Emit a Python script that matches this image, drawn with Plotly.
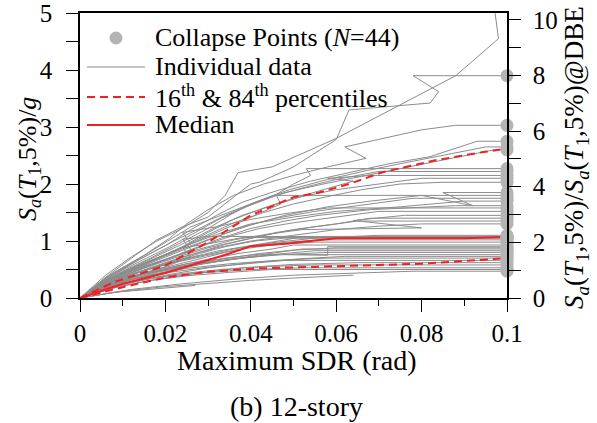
import plotly.graph_objects as go

# ---------------- data ----------------
x_tick_vals = [0, 0.02, 0.04, 0.06, 0.08, 0.1]
x_tick_text = ["0", "0.02", "0.04", "0.06", "0.08", "0.1"]
y_tick_vals = [0, 1, 2, 3, 4, 5]
y2_tick_vals = [0, 2, 4, 6, 8, 10]
sa_dbe = 0.488  # g, ratio between the two y axes

# individual IDA curves (SDR in rad, Sa in g)
c01_sdr = [0, 0.012, 0.024, 0.036, 0.05, 0.064, 0.078, 0.1]
c01_sa = [0, 0.15, 0.25, 0.33, 0.4, 0.44, 0.47, 0.47]
c02_sdr = [0, 0.008, 0.016, 0.025, 0.035, 0.045, 0.1]
c02_sa = [0, 0.18, 0.3, 0.39, 0.45, 0.5, 0.5]
c03_sdr = [0, 0.006, 0.012, 0.02, 0.03, 0.04, 0.052, 0.1]
c03_sa = [0, 0.17, 0.28, 0.38, 0.45, 0.5, 0.53, 0.53]
c04_sdr = [0, 0.007, 0.015, 0.024, 0.033, 0.043, 0.055, 0.1]
c04_sa = [0, 0.2, 0.33, 0.43, 0.5, 0.55, 0.58, 0.58]
c05_sdr = [0, 0.009, 0.018, 0.028, 0.038, 0.05, 0.065, 0.1]
c05_sa = [0, 0.2, 0.33, 0.44, 0.53, 0.59, 0.62, 0.62]
c06_sdr = [0, 0.006, 0.013, 0.021, 0.03, 0.04, 0.048, 0.1]
c06_sa = [0, 0.2, 0.34, 0.45, 0.54, 0.6, 0.66, 0.66]
c07_sdr = [0, 0.008, 0.016, 0.025, 0.035, 0.046, 0.058, 0.1]
c07_sa = [0, 0.25, 0.4, 0.52, 0.6, 0.66, 0.7, 0.7]
c08_sdr = [0, 0.01, 0.02, 0.03, 0.04, 0.052, 0.062, 0.1]
c08_sa = [0, 0.23, 0.4, 0.53, 0.62, 0.69, 0.73, 0.73]
c09_sdr = [0, 0.007, 0.014, 0.022, 0.03, 0.038, 0.047, 0.1]
c09_sa = [0, 0.24, 0.4, 0.52, 0.62, 0.7, 0.76, 0.76]
c11_sdr = [0, 0.006, 0.012, 0.019, 0.027, 0.035, 0.044, 0.058, 0.1]
c11_sa = [0, 0.22, 0.38, 0.5, 0.6, 0.68, 0.75, 0.8, 0.8]
c12_sdr = [0, 0.009, 0.018, 0.027, 0.036, 0.045, 0.055, 0.1]
c12_sa = [0, 0.27, 0.45, 0.58, 0.68, 0.76, 0.83, 0.83]
c13_sdr = [0, 0.011, 0.02, 0.029, 0.037, 0.046, 0.052, 0.1]
c13_sa = [0, 0.3, 0.46, 0.6, 0.7, 0.79, 0.86, 0.86]
c14_sdr = [0, 0.007, 0.015, 0.024, 0.033, 0.042, 0.05, 0.06, 0.1]
c14_sa = [0, 0.25, 0.42, 0.56, 0.68, 0.78, 0.84, 0.88, 0.88]
c15_sdr = [0, 0.008, 0.016, 0.025, 0.034, 0.042, 0.058, 0.058, 0.1]
c15_sa = [0, 0.27, 0.45, 0.6, 0.7, 0.77, 0.75, 0.9, 0.9]
c16_sdr = [0, 0.01, 0.019, 0.028, 0.037, 0.045, 0.05, 0.1]
c16_sa = [0, 0.3, 0.5, 0.65, 0.78, 0.86, 0.93, 0.93]
c17_sdr = [0, 0.007, 0.014, 0.022, 0.03, 0.038, 0.045, 0.055, 0.1]
c17_sa = [0, 0.28, 0.46, 0.62, 0.75, 0.86, 0.93, 0.98, 0.98]
c18_sdr = [0, 0.009, 0.018, 0.027, 0.034, 0.04, 0.047, 0.056, 0.1]
c18_sa = [0, 0.3, 0.5, 0.67, 0.8, 0.9, 0.97, 1.02, 1.02]
c19_sdr = [0, 0.006, 0.013, 0.021, 0.028, 0.034, 0.041, 0.048, 0.1]
c19_sa = [0, 0.26, 0.44, 0.62, 0.78, 0.9, 1.0, 1.05, 1.05]
c20_sdr = [0, 0.01, 0.02, 0.026, 0.024, 0.03, 0.038, 0.1]
c20_sa = [0, 0.33, 0.55, 0.72, 0.88, 0.95, 1.06, 1.06]
c21_sdr = [0, 0.008, 0.016, 0.024, 0.032, 0.04, 0.046, 0.052, 0.1]
c21_sa = [0, 0.3, 0.5, 0.68, 0.82, 0.92, 1.0, 1.07, 1.07]
c22_sdr = [0, 0.007, 0.014, 0.021, 0.026, 0.024, 0.03, 0.1]
c22_sa = [0, 0.32, 0.52, 0.7, 0.85, 1.03, 1.08, 1.08]
c23_sdr = [0, 0.009, 0.018, 0.027, 0.036, 0.045, 0.055, 0.07, 0.1]
c23_sa = [0, 0.33, 0.55, 0.72, 0.86, 0.97, 1.05, 1.1, 1.1]
c24_sdr = [0, 0.008, 0.016, 0.024, 0.032, 0.04, 0.05, 0.06, 0.07, 0.08, 0.1]
c24_sa = [0, 0.3, 0.52, 0.72, 0.88, 1.0, 1.1, 1.2, 1.26, 1.3, 1.3]
c25_sdr = [0, 0.007, 0.014, 0.022, 0.03, 0.038, 0.046, 0.055, 0.065, 0.1]
c25_sa = [0, 0.3, 0.5, 0.7, 0.88, 1.02, 1.15, 1.25, 1.35, 1.35]
c26_sdr = [0, 0.009, 0.018, 0.026, 0.034, 0.042, 0.05, 0.06, 0.068, 0.1]
c26_sa = [0, 0.34, 0.56, 0.76, 0.94, 1.08, 1.2, 1.3, 1.4, 1.4]
c27_sdr = [0, 0.006, 0.012, 0.02, 0.028, 0.036, 0.044, 0.052, 0.08, 0.064, 0.076, 0.1]
c27_sa = [0, 0.28, 0.48, 0.68, 0.86, 1.02, 1.12, 1.2, 1.23, 1.36, 1.45, 1.45]
c28_sdr = [0, 0.008, 0.016, 0.024, 0.03, 0.036, 0.042, 0.05, 0.06, 0.07, 0.1]
c28_sa = [0, 0.32, 0.55, 0.78, 0.95, 1.1, 1.22, 1.32, 1.42, 1.52, 1.52]
c29_sdr = [0, 0.007, 0.014, 0.02, 0.026, 0.024, 0.032, 0.04, 0.048, 0.058, 0.1]
c29_sa = [0, 0.33, 0.55, 0.75, 0.95, 1.15, 1.25, 1.38, 1.48, 1.58, 1.58]
c30_sdr = [0, 0.009, 0.018, 0.026, 0.033, 0.04, 0.048, 0.056, 0.068, 0.088, 0.1]
c30_sa = [0, 0.36, 0.62, 0.85, 1.05, 1.22, 1.35, 1.45, 1.55, 1.62, 1.62]
c31_sdr = [0, 0.006, 0.012, 0.019, 0.026, 0.033, 0.04, 0.05, 0.06, 0.075, 0.09, 0.1]
c31_sa = [0, 0.3, 0.52, 0.74, 0.95, 1.14, 1.3, 1.42, 1.52, 1.6, 1.7, 1.7]
c32_sdr = [0, 0.008, 0.016, 0.024, 0.031, 0.038, 0.046, 0.055, 0.065, 0.078, 0.1]
c32_sa = [0, 0.35, 0.6, 0.84, 1.05, 1.25, 1.4, 1.52, 1.62, 1.75, 1.75]
c33_sdr = [0, 0.007, 0.014, 0.022, 0.029, 0.036, 0.042, 0.047, 0.046, 0.1]
c33_sa = [0, 0.34, 0.58, 0.82, 1.05, 1.28, 1.48, 1.65, 1.8, 1.8]
c10_sdr = [0, 0.008, 0.016, 0.024, 0.032, 0.04, 0.048, 0.058, 0.068, 0.08, 0.092, 0.085, 0.1]
c10_sa = [0, 0.36, 0.62, 0.86, 1.08, 1.28, 1.45, 1.6, 1.7, 1.8, 1.62, 1.85, 1.85]
c34_sdr = [0, 0.008, 0.016, 0.023, 0.03, 0.036, 0.043, 0.05, 0.058, 0.066, 0.075, 0.085, 0.1]
c34_sa = [0, 0.36, 0.62, 0.86, 1.1, 1.32, 1.5, 1.65, 1.78, 1.9, 2.0, 2.03, 2.03]
c35_sdr = [0, 0.006, 0.013, 0.02, 0.026, 0.032, 0.038, 0.045, 0.052, 0.06, 0.07, 0.08, 0.1]
c35_sa = [0, 0.32, 0.56, 0.8, 1.02, 1.25, 1.45, 1.62, 1.78, 1.9, 2.0, 2.1, 2.1]
c36_sdr = [0, 0.009, 0.017, 0.024, 0.03, 0.036, 0.043, 0.05, 0.057, 0.064, 0.058, 0.068, 0.1]
c36_sa = [0, 0.4, 0.66, 0.9, 1.15, 1.38, 1.58, 1.75, 1.9, 2.05, 2.1, 2.15, 2.15]
c37_sdr = [0, 0.007, 0.014, 0.021, 0.027, 0.033, 0.039, 0.046, 0.053, 0.06, 0.07, 0.1]
c37_sa = [0, 0.38, 0.64, 0.9, 1.15, 1.4, 1.6, 1.8, 1.95, 2.08, 2.22, 2.22]
c38_sdr = [0, 0.008, 0.016, 0.023, 0.03, 0.035, 0.04, 0.046, 0.05, 0.054, 0.053, 0.1]
c38_sa = [0, 0.4, 0.68, 0.95, 1.22, 1.45, 1.65, 1.82, 2.0, 2.15, 2.27, 2.27]
c39_sdr = [0, 0.007, 0.014, 0.02, 0.026, 0.033, 0.04, 0.048, 0.057, 0.067, 0.077, 0.087, 0.097, 0.1]
c39_sa = [0, 0.4, 0.7, 0.98, 1.25, 1.45, 1.65, 1.85, 2.0, 2.15, 2.3, 2.45, 2.6, 2.6]
c40_sdr = [0, 0.008, 0.015, 0.022, 0.028, 0.034, 0.041, 0.049, 0.058, 0.068, 0.078, 0.088, 0.095, 0.1]
c40_sa = [0, 0.42, 0.72, 1.0, 1.22, 1.45, 1.68, 1.9, 2.08, 2.25, 2.4, 2.55, 2.65, 2.65]
c41_sdr = [0, 0.006, 0.013, 0.02, 0.026, 0.032, 0.038, 0.046, 0.054, 0.063, 0.072, 0.082, 0.093, 0.1]
c41_sa = [0, 0.36, 0.64, 0.92, 1.2, 1.45, 1.68, 1.88, 2.05, 2.2, 2.35, 2.48, 2.75, 2.75]
c42_sdr = [0, 0.008, 0.015, 0.021, 0.025, 0.03, 0.036, 0.043, 0.05, 0.058, 0.067, 0.062, 0.08, 0.088, 0.1]
c42_sa = [0, 0.45, 0.75, 1.05, 1.3, 1.55, 1.8, 2.0, 2.15, 2.3, 2.45, 2.65, 2.95, 3.03, 3.03]
c43_sdr = [0, 0.007, 0.013, 0.018, 0.024, 0.03, 0.037, 0.04, 0.042, 0.05, 0.06, 0.063, 0.082, 0.084, 0.078, 0.1]
c43_sa = [0, 0.42, 0.75, 1.02, 1.25, 1.42, 1.83, 2.0, 2.03, 2.3, 2.78, 3.3, 3.42, 3.62, 3.9, 3.9]
c44_sdr = [0, 0.006, 0.012, 0.018, 0.024, 0.03, 0.034, 0.037, 0.045, 0.06, 0.088, 0.098, 0.0965]
c44_sa = [0, 0.4, 0.72, 1.0, 1.22, 1.5, 1.8, 2.2, 2.3, 2.8, 3.9, 4.55, 5.4]
# records that stop before the collapse line
e01_sdr = [0, 0.01, 0.02, 0.03, 0.04, 0.05, 0.064]
e01_sa = [0, 0.12, 0.2, 0.26, 0.31, 0.35, 0.40]
e02_sdr = [0, 0.008, 0.016, 0.022, 0.027]
e02_sa = [0, 0.1, 0.15, 0.19, 0.22]

# statistics
median_sdr = [0, 0.01, 0.02, 0.03, 0.035, 0.04, 0.048, 0.06, 0.07, 0.08, 0.09, 0.1]
median_sa = [0, 0.25, 0.44, 0.66, 0.78, 0.91, 0.95, 1.05, 1.05, 1.05, 1.05, 1.07]
p84_sdr = [0, 0.008, 0.02, 0.03, 0.04, 0.05, 0.056, 0.063, 0.071, 0.0835, 0.0944, 0.1]
p84_sa = [0, 0.28, 0.57, 0.98, 1.45, 1.77, 1.85, 2.0, 2.21, 2.42, 2.56, 2.62]
p16_sdr = [0, 0.01, 0.02, 0.03, 0.042, 0.05, 0.06, 0.07, 0.08, 0.09, 0.1]
p16_sa = [0, 0.19, 0.36, 0.46, 0.52, 0.54, 0.56, 0.58, 0.6, 0.65, 0.70]

curves = [
    (c01_sdr, c01_sa), (c02_sdr, c02_sa), (c03_sdr, c03_sa), (c04_sdr, c04_sa),
    (c05_sdr, c05_sa), (c06_sdr, c06_sa), (c07_sdr, c07_sa), (c08_sdr, c08_sa),
    (c09_sdr, c09_sa), (c10_sdr, c10_sa), (c11_sdr, c11_sa), (c12_sdr, c12_sa),
    (c13_sdr, c13_sa), (c14_sdr, c14_sa), (c15_sdr, c15_sa), (c16_sdr, c16_sa),
    (c17_sdr, c17_sa), (c18_sdr, c18_sa), (c19_sdr, c19_sa), (c20_sdr, c20_sa),
    (c21_sdr, c21_sa), (c22_sdr, c22_sa), (c23_sdr, c23_sa), (c24_sdr, c24_sa),
    (c25_sdr, c25_sa), (c26_sdr, c26_sa), (c27_sdr, c27_sa), (c28_sdr, c28_sa),
    (c29_sdr, c29_sa), (c30_sdr, c30_sa), (c31_sdr, c31_sa), (c32_sdr, c32_sa),
    (c33_sdr, c33_sa), (c34_sdr, c34_sa), (c35_sdr, c35_sa), (c36_sdr, c36_sa),
    (c37_sdr, c37_sa), (c38_sdr, c38_sa), (c39_sdr, c39_sa), (c40_sdr, c40_sa),
    (c41_sdr, c41_sa), (c42_sdr, c42_sa), (c43_sdr, c43_sa), (c44_sdr, c44_sa),
    (e01_sdr, e01_sa), (e02_sdr, e02_sa),
]

# ---------------- style ----------------
FONT = "Liberation Serif"
GRAY = "rgb(140,140,140)"
RED = "rgb(245,30,35)"
DOT = "rgb(180,180,180)"

fig = go.Figure()
for sdr, sa in curves:
    fig.add_trace(go.Scatter(x=sdr, y=sa, mode="lines", line=dict(color=GRAY, width=1),
                             showlegend=False, hoverinfo="skip"))

fig.add_trace(go.Scatter(x=p16_sdr, y=p16_sa, mode="lines",
                         line=dict(color=RED, width=2, dash="8px,5px"), showlegend=False))
fig.add_trace(go.Scatter(x=p84_sdr, y=p84_sa, mode="lines",
                         line=dict(color=RED, width=2, dash="8px,5px"), showlegend=False))
fig.add_trace(go.Scatter(x=median_sdr, y=median_sa, mode="lines",
                         line=dict(color=RED, width=2), showlegend=False))

col_x = [s[-1] for s, a in curves if s[-1] == 0.1 and a[-1] <= 5]
col_y = [a[-1] for s, a in curves if s[-1] == 0.1 and a[-1] <= 5]
fig.add_trace(go.Scatter(x=col_x, y=col_y, mode="markers", cliponaxis=False,
                         marker=dict(color=DOT, size=13, line=dict(width=0)),
                         showlegend=False))

# invisible trace on the secondary axis so it is drawn
fig.add_trace(go.Scatter(x=[0], y=[0], yaxis="y2", mode="markers",
                         marker=dict(opacity=0), showlegend=False, hoverinfo="skip"))

axis_common = dict(showline=True, linecolor="black", linewidth=1.5, ticks="outside",
                   tickcolor="black", tickwidth=1.2, ticklen=12, showgrid=False,
                   zeroline=False, automargin=False, ticklabeloverflow="allow",
                   tickfont=dict(family=FONT, size=25, color="black"))

fig.update_layout(
    width=597, height=423,
    margin=dict(l=80, r=90, t=13, b=125),
    paper_bgcolor="white", plot_bgcolor="white",
    font=dict(family=FONT, color="black"),
    xaxis=dict(range=[0, 0.1], tickvals=x_tick_vals, ticktext=x_tick_text, mirror=True,
               minor=dict(dtick=0.01, ticks="outside", ticklen=6, tickcolor="black", tickwidth=1.2),
               ticklabelstandoff=0, **axis_common),
    yaxis=dict(range=[0, 5], tickvals=y_tick_vals,
               minor=dict(dtick=0.5, ticks="outside", ticklen=12, tickcolor="black", tickwidth=1.2),
               ticklabelstandoff=9, **axis_common),
    yaxis2=dict(range=[0, 5 / sa_dbe], tickvals=y2_tick_vals, overlaying="y", side="right",
                anchor="x",
                minor=dict(dtick=1, ticks="outside", ticklen=12, tickcolor="black", tickwidth=1.2),
                ticklabelstandoff=7, **axis_common),
)

def px_x(px):
    return (px - 80) / 427.0

def px_y(py):
    return (298.0 - py) / 285.0

ann = [
    dict(text="<i>S</i><sub><i>a</i></sub>(<i>T</i><sub>1</sub>,5%)/<i>g</i>",
         x=px_x(29), y=px_y(159), textangle=-90, font=dict(size=26)),
    dict(text="<i>S</i><sub><i>a</i></sub>(<i>T</i><sub>1</sub>,5%)/<i>S</i><sub><i>a</i></sub>(<i>T</i><sub>1</sub>,5%)@DBE",
         x=px_x(576), y=px_y(158), textangle=-90, font=dict(size=27)),
    dict(text="Maximum SDR (rad)", x=px_x(296.5), y=px_y(360), font=dict(size=28)),
    dict(text="(b) 12-story", x=px_x(296), y=px_y(406), font=dict(size=28)),
]
# legend (manual, to match the sample lengths)
leg_text = ["Collapse Points (<i>N</i>=44)", "Individual data",
            "16<sup>th</sup> &amp; 84<sup>th</sup> percentiles", "Median"]
leg_y = [37, 66, 96, 124]
for t, yy in zip(leg_text, leg_y):
    ann.append(dict(text=t, x=px_x(153), y=px_y(yy), xanchor="left", font=dict(size=26)))
for a in ann:
    a.update(xref="paper", yref="paper", showarrow=False,
             font=dict(family=FONT, color="black", size=a["font"]["size"]))
    a.setdefault("xanchor", "center")
    a.setdefault("yanchor", "middle")
fig.update_layout(annotations=ann)

shapes = [
    dict(type="circle", x0=px_x(109.5), x1=px_x(122.5), y0=px_y(44.5), y1=px_y(31.5),
         fillcolor=DOT, line=dict(width=0)),
    dict(type="line", x0=px_x(87), x1=px_x(145), y0=px_y(67), y1=px_y(67),
         line=dict(color=GRAY, width=1)),
    dict(type="line", x0=px_x(87), x1=px_x(145), y0=px_y(97), y1=px_y(97),
         line=dict(color=RED, width=2, dash="8px,5px")),
    dict(type="line", x0=px_x(87), x1=px_x(145), y0=px_y(125), y1=px_y(125),
         line=dict(color=RED, width=2)),
]
for s in shapes:
    s.update(xref="paper", yref="paper")
fig.update_layout(shapes=shapes)

fig.write_html("out.html", config={"displayModeBar": False},
               post_script="document.body.style.margin='0';")
